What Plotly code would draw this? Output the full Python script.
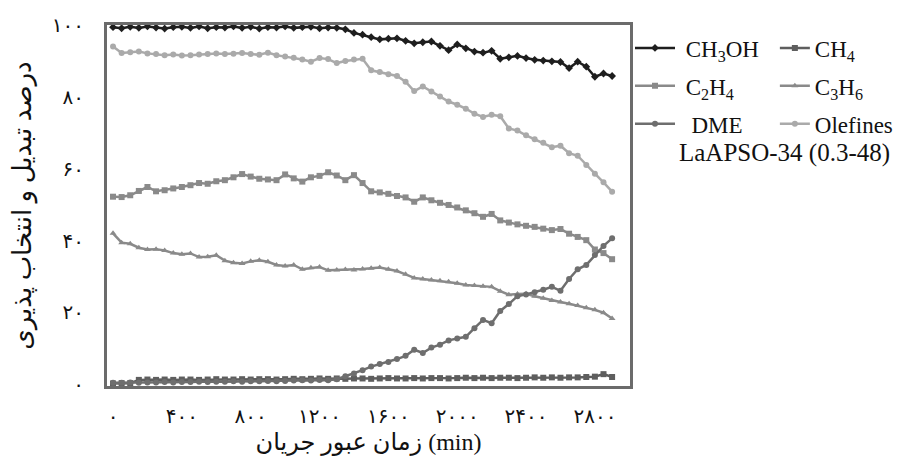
import plotly.graph_objects as go

# ---- data ----
time_min = [0, 50, 100, 150, 200, 250, 300, 350, 400, 450,
            500, 550, 600, 650, 700, 750, 800, 850, 900, 950,
            1000, 1050, 1100, 1150, 1200, 1250, 1300, 1350, 1400, 1450,
            1500, 1550, 1600, 1650, 1700, 1750, 1800, 1850, 1900, 1950,
            2000, 2050, 2100, 2150, 2200, 2250, 2300, 2350, 2400, 2450,
            2500, 2550, 2600, 2650, 2700, 2750, 2800, 2850, 2900]

ch3oh = [99.4, 99.1, 99.5, 99.2, 99.6, 99.3, 99.0, 99.4, 99.5, 99.2,
         99.6, 99.1, 99.4, 99.3, 99.6, 99.2, 99.5, 99.0, 99.4, 99.3,
         99.6, 99.2, 99.4, 99.5, 99.1, 99.3, 99.2, 98.8, 97.8, 97.3,
         96.6, 96.0, 96.2, 96.3, 95.6, 94.9, 95.2, 95.4, 94.2, 93.0,
         94.6, 93.5, 92.6, 92.3, 92.8, 90.6, 91.0, 91.4, 90.8, 90.3,
         90.1, 89.9, 89.7, 88.0, 89.8, 88.4, 85.6, 86.5, 85.8]

ch4 = [0.2, 0.3, 0.3, 1.2, 1.3, 1.2, 1.3, 1.2, 1.3, 1.3,
       1.2, 1.3, 1.4, 1.3, 1.3, 1.4, 1.3, 1.4, 1.4, 1.3,
       1.4, 1.5, 1.4, 1.5, 1.6, 1.5, 1.6, 1.5, 1.6, 1.6,
       1.5, 1.6, 1.7, 1.6, 1.6, 1.7, 1.6, 1.7, 1.7, 1.6,
       1.7, 1.8, 1.7, 1.8, 1.7, 1.8, 1.8, 1.7, 1.8, 1.9,
       1.8, 1.9, 1.8, 1.9, 1.9, 2.0, 2.1, 2.8, 2.0]

c2h4 = [52.2, 52.1, 52.6, 53.8, 54.9, 53.7, 54.0, 54.5, 54.9, 55.4,
        56.0, 55.8, 56.5, 56.8, 57.6, 58.5, 57.8, 57.2, 57.0, 56.8,
        58.4, 57.3, 56.4, 57.6, 58.0, 59.0, 58.1, 56.8, 58.2, 56.0,
        53.7, 53.4, 53.0, 52.4, 52.0, 50.8, 52.0, 51.2, 50.5, 49.9,
        49.2, 48.4, 47.6, 46.6, 47.4, 45.6, 45.0, 44.5, 44.1, 43.8,
        43.3, 42.9, 43.2, 41.9, 41.0, 40.1, 37.5, 36.5, 34.8]

c3h6 = [42.0, 39.4, 39.1, 38.0, 37.5, 37.6, 37.2, 36.5, 36.2, 36.4,
        35.4, 35.5, 35.9, 34.4, 33.8, 33.6, 34.2, 34.5, 34.1, 33.2,
        32.9, 33.2, 32.0, 32.4, 32.6, 31.7, 31.8, 31.9, 31.8, 32.1,
        32.3, 32.5, 32.0, 31.5, 30.6, 29.6, 29.3, 29.0, 28.8, 28.5,
        28.1, 27.6, 27.5, 27.3, 27.1, 25.9, 24.9, 25.1, 25.2, 24.5,
        23.9, 23.3, 22.9, 22.4, 21.9, 21.3, 20.7, 19.9, 18.3]

dme = [0.4, 0.4, 0.5, 0.4, 0.5, 0.5, 0.6, 0.5, 0.6, 0.6,
       0.7, 0.6, 0.7, 0.7, 0.8, 0.7, 0.8, 0.8, 0.9, 0.8,
       0.9, 1.0, 1.1, 1.0, 1.2, 1.1, 1.4, 2.2, 3.0, 3.9,
       4.9, 5.6, 6.2, 7.0, 7.9, 9.6, 8.7, 10.2, 11.0, 12.2,
       12.7, 13.2, 15.6, 17.9, 17.0, 20.4, 22.3, 24.5, 25.0, 25.6,
       26.3, 27.1, 26.0, 29.3, 32.0, 33.2, 36.0, 38.5, 40.6]

olefines = [94.0, 92.2, 92.4, 92.6, 92.1, 91.9, 91.6, 91.8, 91.5, 91.6,
            91.8, 91.9, 92.1, 91.9, 92.0, 92.2, 91.9, 91.7, 92.3, 91.6,
            91.2, 90.9, 90.4, 89.8, 90.8, 90.5, 89.4, 90.0, 90.4, 90.6,
            87.4, 86.9, 86.3, 85.8, 84.2, 81.6, 82.9, 81.5, 80.1, 78.7,
            77.8, 76.7, 75.3, 74.4, 75.0, 74.6, 71.2, 70.6, 69.3, 68.2,
            67.2, 66.0, 66.4, 64.3, 63.6, 61.0, 58.6, 56.2, 53.6]

x_tick_vals = [0, 400, 800, 1200, 1600, 2000, 2400, 2800]
x_tick_text = ["۰", "۴۰۰", "۸۰۰", "۱۲۰۰", "۱۶۰۰", "۲۰۰۰", "۲۴۰۰", "۲۸۰۰"]
y_tick_vals = [0, 20, 40, 60, 80, 100]
y_tick_text = ["۰", "۲۰", "۴۰", "۶۰", "۸۰", "۱۰۰"]

FONT = "Liberation Serif, DejaVu Sans, serif"
NB = "\u00a0"

series = [
    # name, values, color, symbol, legend
    (NB + "CH<sub>3</sub>OH", ch3oh, "#1e1e1e", "diamond", "legend"),
    ("CH<sub>4</sub>", ch4, "#5e5e5e", "square", "legend2"),
    (NB + "C<sub>2</sub>H<sub>4</sub>", c2h4, "#8a8a8a", "square", "legend"),
    ("C<sub>3</sub>H<sub>6</sub>", c3h6, "#8a8a8a", "triangle-up", "legend2"),
    (NB + NB + "DME", dme, "#6e6e6e", "circle", "legend"),
    ("Olefines", olefines, "#aaaaaa", "circle", "legend2"),
]

fig = go.Figure()
for i, (name, vals, col, sym, lg) in enumerate(series):
    fig.add_trace(go.Scatter(
        x=time_min, y=vals, name=name, mode="lines+markers",
        line=dict(color=col, width=2.5),
        marker=dict(symbol=sym, size=6, color=col),
        legend=lg, legendgroup="g%d" % i,
    ))

legend_common = dict(
    font=dict(family=FONT, size=23, color="#111"),
    bgcolor="rgba(0,0,0,0)", borderwidth=0,
    xanchor="left", yanchor="top", tracegroupgap=5,
)
# the page body adds an 8px offset on every side; the figure is sized so the
# page does not overflow the 902x464 window
fig.update_layout(
    width=886, height=448,
    margin=dict(l=99, r=264, t=17, b=70, autoexpand=False),
    paper_bgcolor="white", plot_bgcolor="white",
    font=dict(family=FONT, size=20, color="#111"),
    showlegend=True,
    legend=dict(x=1.0, y=0.996, itemwidth=40, **legend_common),
    legend2=dict(x=1.277, y=0.996, itemwidth=30, **legend_common),
    xaxis=dict(
        range=[-35, 3004], tickmode="array",
        tickvals=x_tick_vals, ticktext=x_tick_text,
        showgrid=False, zeroline=False, ticks="",
        showline=True, mirror=True, linecolor="#6b6b6b", linewidth=3,
        tickfont=dict(family=FONT, size=20, color="#111"),
        ticklabelstandoff=10,
        title=dict(text="زمان عبور جریان (min)", standoff=10,
                   font=dict(family=FONT, size=24, color="#111")),
    ),
    yaxis=dict(
        range=[-0.5, 100], tickmode="array",
        tickvals=y_tick_vals, ticktext=y_tick_text,
        showgrid=False, zeroline=False, ticks="",
        showline=True, mirror=True, linecolor="#6b6b6b", linewidth=3,
        tickfont=dict(family=FONT, size=20, color="#111"),
        ticklabelstandoff=16,
        title=dict(text="درصد تبدیل و انتخاب پذیری", standoff=16,
                   font=dict(family=FONT, size=26, color="#111")),
    ),
    annotations=[dict(
        text="LaAPSO-34 (0.3-48)", xref="paper", yref="paper",
        x=1.296, y=0.645, xanchor="center", yanchor="middle",
        showarrow=False, font=dict(family=FONT, size=25, color="#111"),
    )],
)

fig.write_html("out.html")
